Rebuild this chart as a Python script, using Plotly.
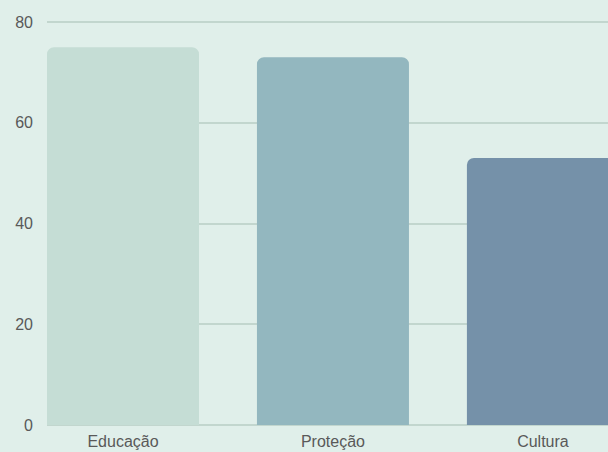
import plotly.graph_objects as go

categories = ["Educação", "Proteção", "Cultura"]
values = [75, 73, 53]
bar_colors = ["#c5ddd5", "#93b7bf", "#7591a9"]
y_ticks = [0, 20, 40, 60, 80]

fig = go.Figure(
    go.Bar(
        x=list(range(len(categories))),
        y=values,
        marker=dict(color=bar_colors, line=dict(width=0)),
        width=0.724,
        hoverinfo="skip",
    )
)

fig.update_layout(
    width=608,
    height=452,
    margin=dict(l=47, r=0, t=17, b=27),
    paper_bgcolor="#e0efea",
    plot_bgcolor="#e0efea",
    barcornerradius=7,
    showlegend=False,
    font=dict(family="Liberation Sans, Arial, sans-serif", size=16, color="#595959"),
)
fig.update_xaxes(
    range=[-0.362, 2.31],
    tickmode="array",
    tickvals=list(range(len(categories))),
    ticktext=categories,
    showgrid=False,
    zeroline=False,
    showline=False,
    ticks="",
    ticklabelstandoff=5,
    fixedrange=True,
)
fig.update_yaxes(
    range=[0, 81],
    tickmode="array",
    tickvals=y_ticks,
    showgrid=True,
    gridcolor="#c2d6ce",
    gridwidth=2,
    zeroline=True,
    zerolinecolor="#c2d6ce",
    zerolinewidth=2,
    showline=False,
    ticks="",
    ticklabelstandoff=13,
    fixedrange=True,
)

fig.write_html("out.html", config={"displayModeBar": False})
with open("out.html", encoding="utf-8") as f:
    html = f.read()
html = html.replace("<body>", '<body style="margin:0;padding:0;overflow:hidden">', 1)
with open("out.html", "w", encoding="utf-8") as f:
    f.write(html)
